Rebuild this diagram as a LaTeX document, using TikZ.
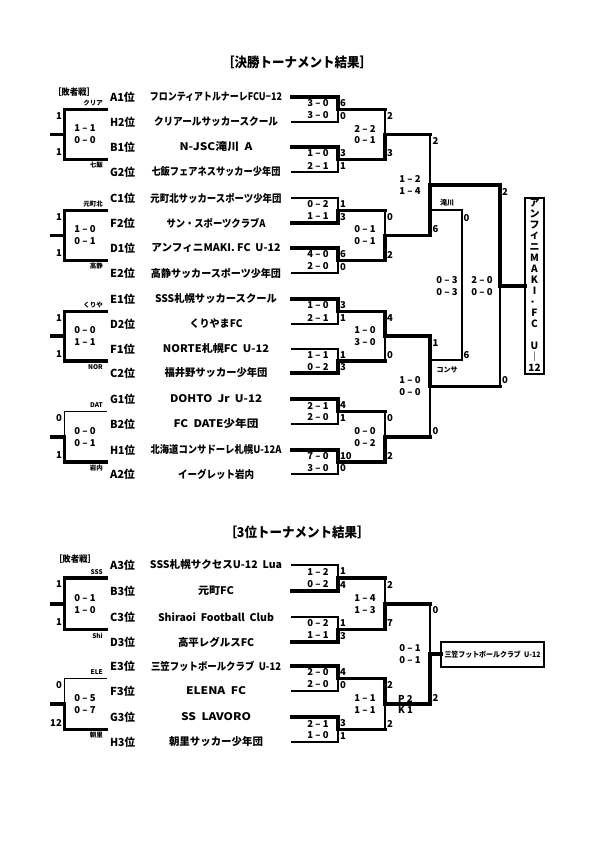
\documentclass[tikz,border=0pt]{standalone}
\usepackage{fontspec}
\usepackage{graphicx}
\setmainfont{Noto Sans CJK JP}
\newcount\nodecnt
\newcommand\W[2]{\resizebox{#1 pt}{\height}{#2}}
\newcommand\nd[4][txt]{\global\advance\nodecnt by 1\relax\node[#1] (n\the\nodecnt) at (#2,#3) {#4};}
% bracket match: yt yb winner(0 top/1 bottom) s1 s2 n1 n2 ; uses \XA \XV \XO \XS \XN
\newcommand\mt[7]{%
  \pgfmathsetmacro\ym{(#1+#2)/2}%
  \ifnum#3=0 \def\yw{#1}\def\yl{#2}\else\def\yw{#2}\def\yl{#1}\fi
  \draw[thk] (\XA,\yw) -- (\XV,\yw) -- (\XV,\ym) -- (\XO,\ym);
  \draw[thn] (\XA,\yl) -- (\XV,\yl) -- (\XV,\ym);
  \nd[score]{\XS}{\ym-6}{#4}\nd[score]{\XS}{\ym+6}{#5}%
  \nd[num]{\XN}{#1+6.5}{#6}\nd[num]{\XN}{#2-6}{#7}}
% loser bracket on the left: yt yb type s1 s2 n1 n2 tagtop tagbottom
\newcommand\lbr[9]{%
  \pgfmathsetmacro\ym{(#1+#2)/2}%
  \ifnum#3=0 \draw[thk] (106,#1) -- (64.5,#1) -- (64.5,#2) -- (106,#2);
  \else \draw[thn] (106,#1) -- (64.5,#1) -- (64.5,\ym);
        \draw[thk] (64.5,\ym) -- (64.5,#2) -- (106,#2); \fi
  \draw[thk] (64.5,\ym) -- (52,\ym);
  \nd[score]{85}{\ym-6}{#4}\nd[score]{85}{\ym+6}{#5}%
  \nd[lnum]{62}{#1+6.5}{#6}\nd[lnum]{62}{#2-7}{#7}%
  \nd[tag]{103}{#1-6}{#8}\nd[tag]{103}{#2+6}{#9}}
\tikzset{
  thk/.style={line width=3.6pt, line cap=rect, line join=miter},
  thn/.style={line width=1.2pt, line cap=rect, line join=miter},
  thm/.style={line width=1.9pt, line cap=rect, line join=miter},
  txt/.style={inner sep=0pt, font=\bfseries},
  team/.style={txt, font=\bfseries\fontsize{10.5}{10.5}\selectfont},
  rank/.style={txt, font=\bfseries\fontsize{11}{11}\selectfont},
  score/.style={txt, font=\bfseries\fontsize{9.5}{9.5}\selectfont},
  num/.style={txt, anchor=west, font=\bfseries\fontsize{9.5}{9.5}\selectfont},
  lnum/.style={txt, anchor=east, font=\bfseries\fontsize{9.5}{9.5}\selectfont},
  tag/.style={txt, anchor=east, font=\bfseries\fontsize{6.5}{6.5}\selectfont},
  ctag/.style={txt, font=\bfseries\fontsize{7}{7}\selectfont},
  ttl/.style={txt, font=\bfseries\fontsize{13.5}{13.5}\selectfont},
  hdr/.style={txt, font=\bfseries\fontsize{9}{9}\selectfont},
  boxl/.style={draw, line width=1.5pt, inner sep=0pt}
}
\begin{document}
\begin{tikzpicture}[x=1pt,y=-1pt]
\useasboundingbox[fill=white] (0,0) rectangle (595,842);
% titles
\nd[ttl]{297}{62}{\W{150}{［決勝トーナメント結果］}}
\nd[ttl]{297}{532}{\W{145}{［3位トーナメント結果］}}
\nd[hdr]{74}{92}{\W{42}{［敗者戦］}}
\nd[hdr]{75}{559}{\W{42}{［敗者戦］}}
% team rows (main)
\foreach \myr/\myt/\myw/\myy [count=\i] in {
 A1/フロンティアトルナーレFCU−12/132/97,
 H2/クリアールサッカースクール/124/122,
 B1/N-JSC滝川~~A/73/147,
 G2/七飯フェアネスサッカー少年団/129/172,
 C1/元町北サッカースポーツ少年団/131/198,
 F2/サン・スポーツクラブA/99/223,
 D1/アンフィニMAKI.~FC~~U-12/129/248,
 E2/高静サッカースポーツ少年団/130/273,
 E1/SSS札幌サッカースクール/122/299,
 D2/くりやまFC/53/324,
 F1/NORTE札幌FC~~U-12/106/349,
 C2/福井野サッカー少年団/103/373,
 G1/DOHTO~~Jr~~U-12/92/399,
 B2/FC~~DATE少年団/85/424,
 H1/北海道コンサドーレ札幌U-12A/131/450,
 A2/イーグレット岩内/76/474}{
  \node[rank] (rk\i) at (122.5,\myy) {\W{25}{\myr 位}};
  \node[team] (tm\i) at (216,\myy) {\W{\myw}{\myt}};
}
% team rows (3rd place)
\foreach \myr/\myt/\myw/\myy [count=\i] in {
 A3/SSS札幌サクセスU-12~~Lua/132/565,
 B3/元町FC/36/591,
 C3/Shiraoi~~Football~~Club/116/617,
 D3/高平レグルスFC/76/642,
 E3/三笠フットボールクラブ~~U-12/130/666,
 F3/ELENA~~FC/60/691,
 G3/SS~~LAVORO/70/717,
 H3/朝里サッカー少年団/94/742}{
  \node[rank] (rkt\i) at (122.5,\myy) {\W{25}{\myr 位}};
  \node[team] (tmt\i) at (216,\myy) {\W{\myw}{\myt}};
}
% ---------- main bracket ----------
\def\XA{292}\def\XV{338}\def\XO{385}\def\XS{318}\def\XN{340}
\mt{97}{122}{0}{3 – 0}{3 – 0}{6}{0}
\mt{147}{172}{0}{1 – 0}{2 – 1}{3}{1}
\mt{198}{223}{1}{0 – 2}{1 – 1}{1}{3}
\mt{248}{273}{0}{4 – 0}{2 – 0}{6}{0}
\mt{299}{324}{0}{1 – 0}{2 – 1}{3}{1}
\mt{349}{373}{1}{1 – 1}{0 – 2}{1}{3}
\mt{399}{424}{0}{2 – 1}{2 – 0}{4}{1}
\mt{450}{474}{0}{7 – 0}{3 – 0}{10}{0}
\def\XA{384}\def\XV{385}\def\XO{430}\def\XS{365}\def\XN{387}
\mt{109.5}{159.5}{1}{2 – 2}{0 – 1}{2}{3}
\mt{210.5}{260.5}{1}{0 – 1}{0 – 1}{0}{2}
\mt{311.5}{361}{0}{1 – 0}{3 – 0}{4}{0}
\mt{411.5}{462}{1}{0 – 0}{0 – 2}{0}{2}
\def\XA{429}\def\XV{430}\def\XO{500}\def\XS{410}\def\XN{432.5}
\mt{134.5}{235.5}{1}{1 – 2}{1 – 4}{2}{6}
\mt{336.25}{436.75}{0}{1 – 0}{0 – 0}{1}{0}
\def\XA{499}\def\XV{500}\def\XO{525}\def\XS{482}\def\XN{502}
\mt{185}{386.5}{0}{2 – 0}{0 – 0}{2}{0}
% third-place match of the semifinal losers
\draw[thm] (430,210) -- (462,210) -- (462,360) -- (430,360);
\nd[score]{447}{279.75}{0 – 3}\nd[score]{447}{291.75}{0 – 3}
\nd[num]{463.5}{218}{0}\nd[num]{463.5}{355}{6}
\nd[ctag]{447}{203}{滝川}\nd[ctag]{447}{370}{コンサ}
% champion box
\node[boxl, minimum width=19pt, minimum height=176pt] (champ) at (534.5,286) {};
\foreach \c [count=\i from 0] in {ア,ン,フ,ィ,ニ,M,A,K,I,．,F,C,,U,｜,12}{
  \node[txt, font=\bfseries\fontsize{10}{10}\selectfont] (ch\i) at (534.5,203+11*\i) {\c};
}
% loser brackets (main)
\lbr{109.5}{159.5}{0}{1 – 1}{0 – 0}{1}{1}{クリア}{七飯}
\lbr{210.5}{260.5}{0}{1 – 0}{0 – 1}{1}{1}{元町北}{高静}
\lbr{311.5}{361}{0}{0 – 0}{1 – 1}{1}{1}{くりや}{NOR}
\lbr{411.5}{462}{1}{0 – 0}{0 – 1}{0}{1}{DAT}{岩内}
% ---------- 3rd place bracket ----------
\def\XA{292}\def\XV{338}\def\XO{385}\def\XS{318}\def\XN{340}
\mt{565}{591}{1}{1 – 2}{0 – 2}{1}{4}
\mt{617}{642}{1}{0 – 2}{1 – 1}{1}{3}
\mt{666}{691}{0}{2 – 0}{2 – 0}{4}{0}
\mt{717}{742}{0}{2 – 1}{1 – 0}{3}{1}
\def\XA{384}\def\XV{385}\def\XO{430}\def\XS{365}\def\XN{387}
\mt{578}{629.5}{1}{1 – 4}{1 – 3}{2}{7}
\mt{678.5}{729.5}{0}{1 – 1}{1 – 1}{2}{2}
\nd[num]{398}{699}{P 2}\nd[num]{398}{710}{K 1}
\def\XA{429}\def\XV{430}\def\XO{441}\def\XS{410}\def\XN{432.5}
\mt{603.75}{704}{1}{0 – 1}{0 – 1}{0}{2}
\node[boxl, minimum width=103pt, minimum height=25pt] (thirdbox) at (492.5,654.5) {};
\nd[txt]{492.5}{654.5}{\fontsize{7.5}{7.5}\selectfont\W{96}{三笠フットボールクラブ~~U-12}}
\lbr{578}{629.5}{0}{0 – 1}{1 – 0}{1}{1}{SSS}{Shi}
\lbr{678.5}{729.5}{1}{0 – 5}{0 – 7}{0}{12}{ELE}{朝里}
\end{tikzpicture}
\end{document}
